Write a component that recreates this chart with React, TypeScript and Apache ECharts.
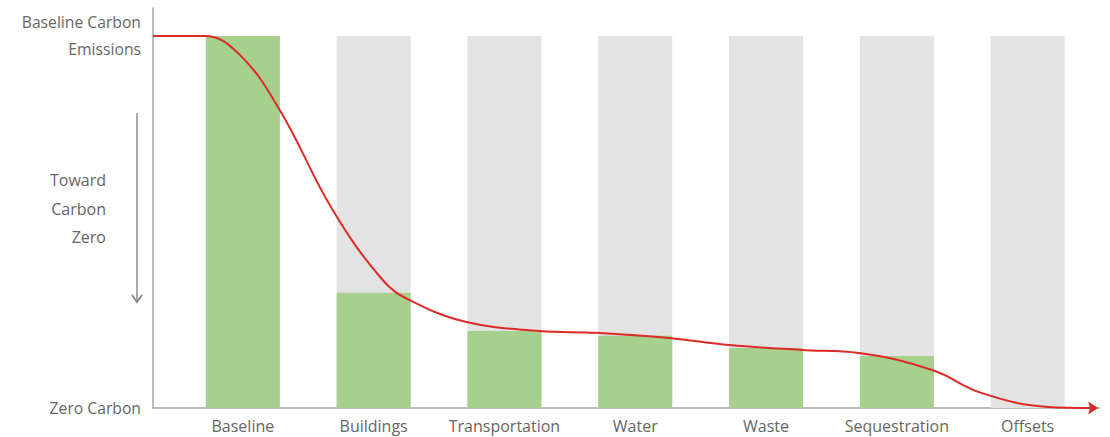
import React, { useEffect, useRef } from "react";
import * as echarts from "echarts";

const categories = ["Baseline", "Buildings", "Transportation", "Water", "Waste", "Sequestration", "Offsets"];
const categoryPositions = [0, 1, 2, 3, 4, 5, 6];
const fullValues = [100, 100, 100, 100, 100, 100, 100];
const reductionValues = [100, 31, 20.7, 19.4, 16.1, 14, 0];
const curveX = [-0.687, -0.29, -0.023, 0.282, 0.687, 1.069, 1.275, 1.71, 2.267, 2.7, 3.26, 3.72, 4.27, 4.71, 5.27, 5.65, 6.16, 6.5];
const curveY = [100, 100, 94.9, 80.1, 53.2, 34.4, 29.0, 23.1, 20.7, 20.2, 18.8, 16.9, 15.6, 14.8, 10.2, 4.0, 0.3, 0];
const yLabelValues = [0, 100];
const yLabelTexts = ["Zero Carbon", "Baseline Carbon\nEmissions"];

const FONT = "Open Sans";
const TEXT = "#666666";

export default function App() {
  const ref = useRef<HTMLDivElement>(null);
  useEffect(() => {
    document.body.style.margin = "0";
    const chart = echarts.init(ref.current!, null, { renderer: "svg" });
    const curveData = curveX.map((x, i) => {
      if (i === curveX.length - 1) {
        return {
          value: [x, curveY[i]],
          symbol: "path://M0,0 L10,6 L0,12 L2,6 Z",
          symbolSize: [10, 13],
        };
      }
      return { value: [x, curveY[i]], symbol: "none" };
    });
    chart.setOption({
      animation: false,
      grid: { left: 153, right: 10.4, top: 8, bottom: 29 },
      xAxis: {
        type: "value",
        min: -0.687,
        max: 6.55,
        splitLine: { show: false },
        axisTick: { show: false },
        axisLine: { show: true, onZero: false, lineStyle: { color: "#a6a6a6", width: 1.5 } },
        axisLabel: {
          customValues: categoryPositions,
          formatter: (v: number) => categories[Math.round(v)] ?? "",
          color: TEXT,
          fontFamily: FONT,
          fontSize: 16,
          margin: 10,
        },
      },
      yAxis: {
        type: "value",
        min: 0,
        max: 107.5,
        splitLine: { show: false },
        axisTick: { show: false },
        axisLine: { show: true, onZero: false, lineStyle: { color: "#a6a6a6", width: 1.5 } },
        axisLabel: {
          customValues: yLabelValues,
          formatter: (v: number) => yLabelTexts[yLabelValues.indexOf(v)] ?? "",
          color: TEXT,
          fontFamily: FONT,
          fontSize: 15.7,
          lineHeight: 27,
          margin: 12,
          align: "right",
        },
      },
      graphic: [
        {
          type: "text",
          x: 106,
          y: 166,
          style: {
            text: "Toward\nCarbon\nZero",
            fill: TEXT,
            font: `16px "${FONT}"`,
            lineHeight: 28.5,
            align: "right",
          },
        },
        {
          type: "line",
          shape: { x1: 137, y1: 113, x2: 137, y2: 302 },
          style: { stroke: "#8c8c8c", lineWidth: 1.5 },
        },
        {
          type: "polyline",
          shape: { points: [[132, 295], [137, 302], [142, 295]] },
          style: { stroke: "#8c8c8c", lineWidth: 2, fill: "none" },
        },
      ],
      series: [
        {
          type: "bar",
          data: categoryPositions.map((p, i) => [p, fullValues[i]]),
          barWidth: 74,
          barGap: "-100%",
          itemStyle: { color: "#e3e3e3" },
          silent: true,
          z: 1,
        },
        {
          type: "bar",
          data: categoryPositions.map((p, i) => [p, reductionValues[i]]),
          barWidth: 74,
          barGap: "-100%",
          itemStyle: { color: "#a6d08c" },
          silent: true,
          z: 2,
        },
        {
          type: "line",
          data: curveData,
          smooth: 0.4,
          showSymbol: true,
          itemStyle: { color: "#dc2b26" },
          lineStyle: { color: "#dc2b26", width: 2 },
          z: 5,
        },
      ],
    });
    return () => chart.dispose();
  }, []);
  return <div ref={ref} style={{ width: 1110, height: 437 }} />;
}
